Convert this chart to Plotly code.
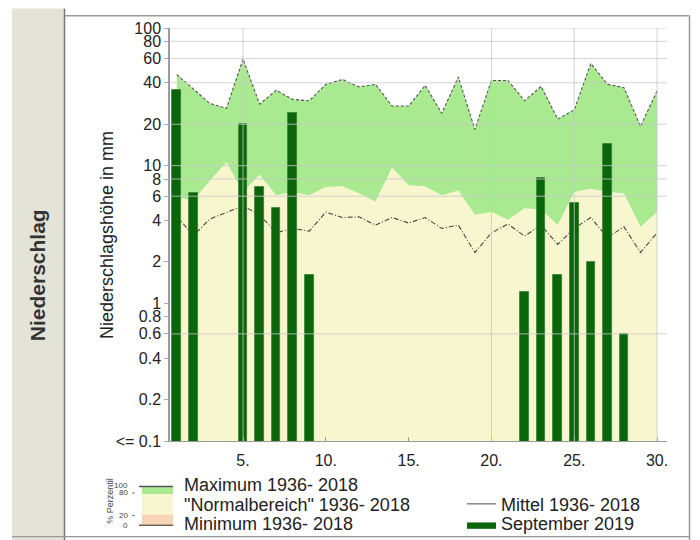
import plotly.graph_objects as go

# ---------------- data ----------------
days = list(range(1, 31))

sep_2019 = [35.5, 6.3, 0, 0, 20, 7.0, 4.9, 24, 1.6, 0,
            0, 0, 0, 0, 0, 0, 0, 0, 0, 0,
            0, 1.2, 8.1, 1.6, 5.4, 2.0, 14.3, 0.6, 0, 0]

max_1936_2018 = [45.9, 36, 28.3, 26.1, 59.5, 28, 35.3, 30.3, 29.6, 39,
                 42.3, 37.3, 39, 27.1, 27.1, 38.3, 24, 44, 18.3, 41.6,
                 41.6, 29.6, 37.7, 21.8, 25.4, 55.3, 39, 36.9, 19.3, 34.9]

p80_1936_2018 = [5.9, 5.6, 7.8, 10.6, 6.45, 8.6, 6.1, 6.45, 6.1, 7.0,
                 7.1, 6.3, 5.5, 9.7, 7.2, 7.1, 6.1, 6.6, 4.4, 4.6,
                 4.05, 4.9, 4.8, 3.7, 6.45, 6.8, 6.45, 6.3, 3.6, 4.6]

mean_1936_2018 = [4.3, 3.1, 4.1, 4.6, 5.1, 4.4, 3.25, 3.5, 3.34, 4.6,
                  4.2, 4.25, 3.7, 4.2, 3.83, 4.2, 3.5, 3.7, 2.34, 3.25,
                  3.77, 3.08, 3.7, 2.68, 3.5, 4.2, 3.0, 3.6, 2.34, 3.25]

y_tick_vals = [0.1, 0.2, 0.4, 0.6, 0.8, 1, 2, 4, 6, 8, 10, 20, 40, 60, 80, 100]
y_tick_text = ["<= 0.1", "0.2", "0.4", "0.6", "0.8", "1", "2", "4", "6", "8",
               "10", "20", "40", "60", "80", "100"]
x_tick_vals = [5, 10, 15, 20, 25, 30]
x_tick_text = ["5.", "10.", "15.", "20.", "25.", "30."]
grid_y = [0.6, 6, 8, 10, 20, 40, 60, 80, 100]
grid_x = [5, 20, 25, 30]

legend_left = ["Maximum 1936- 2018", "\"Normalbereich\" 1936- 2018", "Minimum 1936- 2018"]
legend_right = ["Mittel 1936- 2018", "September 2019"]
perc_labels = ["100", "80", "20", "0"]

# ---------------- styling ----------------
FONT = "Liberation Sans, Arial, sans-serif"
GREEN = "#a9e990"
YELLOW = "#f8f6cf"
PEACH = "#f6d4b4"
BAR = "#0b650b"
OFF = 8                      # page body margin
W, H = 692, 532
L, T = 170 - OFF, 20 - OFF
R = W - (667 - OFF)
B = H - (441 - OFF)
PW, PH = W - L - R, H - T - B


def fx(px):
    return (px - OFF - L) / PW


def fy(py):
    return (H - B - (py - OFF)) / PH


fig = go.Figure()

fig.add_trace(go.Scatter(x=days, y=p80_1936_2018, mode="lines", fill="tozeroy",
                         fillcolor=YELLOW, line=dict(width=0, color=YELLOW),
                         hoverinfo="skip", showlegend=False))
fig.add_trace(go.Scatter(x=days, y=max_1936_2018, mode="lines", fill="tonexty",
                         fillcolor=GREEN, line=dict(width=1.1, color="#555555", dash="3px,2px"),
                         showlegend=False))
fig.add_trace(go.Scatter(x=days, y=mean_1936_2018, mode="lines",
                         line=dict(width=1.1, color="#444444", dash="5px,2px,1px,2px"),
                         showlegend=False))
fig.add_trace(go.Bar(x=days, y=sep_2019, width=0.52,
                     marker=dict(color=BAR, line=dict(width=0.8, color="#2f7f2f")),
                     yaxis="y2", showlegend=False))

shapes = []
for v in grid_y:
    shapes.append(dict(type="line", xref="paper", x0=0, x1=1, yref="y", y0=v, y1=v,
                       line=dict(color="rgba(200,200,200,0.8)", width=1), layer="above"))
for v in grid_x:
    shapes.append(dict(type="line", xref="x", x0=v, x1=v, yref="paper", y0=0, y1=1,
                       line=dict(color="rgba(200,200,200,0.8)", width=1), layer="above"))

# frame decorations
shapes.append(dict(type="rect", xref="paper", yref="paper", x0=fx(12), x1=fx(64), y0=fy(0), y1=fy(545),
                   fillcolor="#e3e3d8", line=dict(width=0), layer="below"))
shapes.append(dict(type="line", xref="paper", yref="paper", x0=fx(64.5), x1=fx(64.5), y0=fy(0), y1=fy(545),
                   line=dict(color="#777777", width=1.5)))
shapes.append(dict(type="line", xref="paper", yref="paper", x0=fx(65), x1=fx(689.5), y0=fy(7.5), y1=fy(7.5),
                   line=dict(color="#999999", width=1.5)))
shapes.append(dict(type="line", xref="paper", yref="paper", x0=fx(689.5), x1=fx(689.5), y0=fy(7.5), y1=fy(545),
                   line=dict(color="#999999", width=1.5)))
shapes.append(dict(type="line", xref="paper", yref="paper", x0=fx(12), x1=fx(689.5), y0=fy(538.5), y1=fy(538.5),
                   line=dict(color="#999999", width=1.2)))

# legend swatch
shapes.append(dict(type="rect", xref="paper", yref="paper", x0=fx(142), x1=fx(173), y0=fy(495), y1=fy(488),
                   fillcolor=GREEN, line=dict(width=0)))
shapes.append(dict(type="rect", xref="paper", yref="paper", x0=fx(142), x1=fx(173), y0=fy(516), y1=fy(495),
                   fillcolor=YELLOW, line=dict(width=0)))
shapes.append(dict(type="rect", xref="paper", yref="paper", x0=fx(142), x1=fx(173), y0=fy(526), y1=fy(516),
                   fillcolor=PEACH, line=dict(width=0)))
shapes.append(dict(type="line", xref="paper", yref="paper", x0=fx(139), x1=fx(173), y0=fy(487.5), y1=fy(487.5),
                   line=dict(color="#555555", width=1.5)))
shapes.append(dict(type="line", xref="paper", yref="paper", x0=fx(139), x1=fx(173), y0=fy(527), y1=fy(527),
                   line=dict(color="#6b5b4b", width=1.5)))
for yy in (494, 517):
    shapes.append(dict(type="line", xref="paper", yref="paper", x0=fx(132), x1=fx(135), y0=fy(yy), y1=fy(yy),
                       line=dict(color="#777777", width=1)))
shapes.append(dict(type="line", xref="paper", yref="paper", x0=fx(467), x1=fx(496), y0=fy(505), y1=fy(505),
                   line=dict(color="#888888", width=1.5)))
shapes.append(dict(type="rect", xref="paper", yref="paper", x0=fx(467), x1=fx(496), y0=fy(530.5), y1=fy(524),
                   fillcolor=BAR, line=dict(width=0)))

annotations = []
annotations.append(dict(text="Niederschlag", xref="paper", yref="paper", x=fx(37), y=fy(272),
                        textangle=-90, showarrow=False, xanchor="center", yanchor="middle",
                        font=dict(family=FONT, size=21, color="#333333", weight="bold")))
annotations.append(dict(text="Niederschlagshöhe in mm", xref="paper", yref="paper", x=fx(107), y=fy(231),
                        textangle=-90, showarrow=False, xanchor="center", yanchor="middle",
                        font=dict(family=FONT, size=18, color="#222222")))
annotations.append(dict(text="% Perzentil", xref="paper", yref="paper", x=fx(110), y=fy(502),
                        textangle=-90, showarrow=False, xanchor="center", yanchor="middle",
                        font=dict(family=FONT, size=9, color="#444444")))
for lab, yy in zip(perc_labels, [486, 494, 517, 527]):
    annotations.append(dict(text=lab, xref="paper", yref="paper", x=fx(129.5), y=fy(yy),
                            showarrow=False, xanchor="right", yanchor="middle",
                            font=dict(family=FONT, size=8, color="#444444")))
for lab, yy in zip(legend_left, [486, 506, 526]):
    annotations.append(dict(text=lab, xref="paper", yref="paper", x=fx(182), y=fy(yy),
                            showarrow=False, xanchor="left", yanchor="middle",
                            font=dict(family=FONT, size=18, color="#222222")))
for lab, yy in zip(legend_right, [506, 526]):
    annotations.append(dict(text=lab, xref="paper", yref="paper", x=fx(499), y=fy(yy),
                            showarrow=False, xanchor="left", yanchor="middle",
                            font=dict(family=FONT, size=18, color="#222222")))

fig.update_layout(
    width=W, height=H,
    margin=dict(l=L, r=R, t=T, b=B),
    paper_bgcolor="white", plot_bgcolor="white",
    font=dict(family=FONT, color="#222222"),
    showlegend=False,
    bargap=0,
    xaxis=dict(range=[0.59, 30.6], tickvals=x_tick_vals, ticktext=x_tick_text,
               ticks="inside", ticklen=4, tickcolor="#999999", showline=True, linecolor="#999999",
               linewidth=1.2, showgrid=False, zeroline=False, tickfont=dict(size=16, color="#222222"),
               ticklabelstandoff=5),
    yaxis=dict(type="log", range=[-1, 2], tickvals=y_tick_vals, ticktext=y_tick_text,
               ticks="outside", ticklen=4, tickcolor="#aaaaaa", showline=True, linecolor="#9a9aaa",
               linewidth=1.5, showgrid=False, zeroline=False, tickfont=dict(size=16, color="#222222")),
    yaxis2=dict(type="log", range=[-1, 2], overlaying="y", visible=False, showgrid=False),
    shapes=shapes,
    annotations=annotations,
)

fig.write_html("out.html")
